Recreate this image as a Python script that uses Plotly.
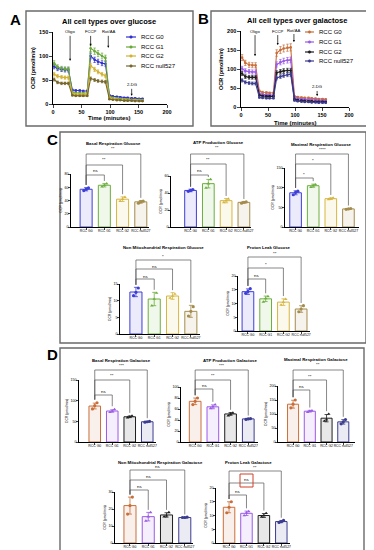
import plotly.graph_objects as go

W, H = 374, 550

# ---------------- DATA ----------------
GROUPS = ["RCC G0", "RCC G1", "RCC G2", "RCC null527"]

TIME_MIN = [2, 8, 15, 21, 27, 34, 40, 47, 53, 60, 66, 73, 79, 86, 92,
            99, 105, 112, 118, 125, 131, 138, 144, 151, 157]

GLU_G0 = [78, 74, 72, 71, 71, 29, 28, 28, 27, 27, 100, 92, 88, 85, 84,
          18, 16, 15, 14, 13, 13, 12, 12, 11, 11]
GLU_G1 = [85, 77, 74, 73, 73, 24, 23, 23, 23, 23, 116, 110, 105, 100, 96,
          15, 13, 12, 11, 10, 10, 9, 9, 9, 8]
GLU_G2 = [62, 58, 56, 55, 55, 21, 20, 20, 20, 20, 80, 72, 67, 62, 59,
          13, 11, 10, 9, 9, 8, 8, 8, 7, 7]
GLU_NULL = [51, 45, 43, 43, 43, 18, 17, 17, 17, 17, 53, 50, 48, 47, 46,
            10, 9, 8, 8, 7, 7, 7, 6, 6, 6]

GAL_G0 = [130, 116, 111, 110, 110, 42, 39, 38, 37, 37, 142, 150, 154, 156, 157,
          28, 26, 25, 24, 24, 23, 22, 21, 21, 20]
GAL_G1 = [101, 95, 93, 92, 92, 35, 33, 32, 32, 31, 112, 118, 121, 123, 124,
          24, 22, 21, 20, 19, 18, 18, 17, 17, 16]
GAL_G2 = [88, 80, 78, 78, 78, 31, 29, 28, 28, 28, 90, 93, 95, 96, 96,
          20, 18, 17, 16, 15, 15, 14, 14, 14, 13]
GAL_NULL = [70, 65, 63, 62, 62, 25, 24, 23, 23, 23, 76, 80, 83, 85, 86,
            17, 15, 14, 13, 13, 12, 12, 11, 11, 11]

# bar charts: means, SD, individual replicates
BASAL_GLU_MEAN = [57, 63, 42, 38]
BASAL_GLU_SD = [2.5, 2.5, 3.5, 2]
BASAL_GLU_PTS = [[55, 57, 59], [61, 63, 65.5], [39, 42, 45], [36, 38, 39]]

ATP_GLU_MEAN = [43, 51, 31, 29]
ATP_GLU_SD = [1.5, 5, 2.5, 1]
ATP_GLU_PTS = [[42, 43, 44], [46, 51, 56], [29, 31, 33], [28, 29, 29.5]]

MAX_GLU_MEAN = [87, 105, 72, 46]
MAX_GLU_SD = [5, 4, 2, 1]
MAX_GLU_PTS = [[82, 88, 91], [101, 105, 108], [70, 72, 74], [45, 46, 47]]

NONMITO_GLU_MEAN = [12.6, 10.5, 11.4, 6.8]
NONMITO_GLU_SD = [1.4, 2.0, 1.0, 1.8]
NONMITO_GLU_PTS = [[11.5, 12.5, 13.8], [8.5, 10.5, 12.3], [10.8, 11.4, 12.0], [5.4, 6.8, 8.2]]

LEAK_GLU_MEAN = [14.3, 11.7, 10.5, 8.0]
LEAK_GLU_SD = [1.0, 1.0, 1.2, 1.2]
LEAK_GLU_PTS = [[13.7, 14.4, 15.4], [10.6, 11.8, 12.6], [9.5, 10.5, 11.6], [7.0, 8.0, 9.2]]

BASAL_GAL_MEAN = [87, 75, 61, 49]
BASAL_GAL_SD = [7, 3, 2, 1]
BASAL_GAL_PTS = [[80, 88, 95], [72, 75, 79], [59, 61, 63], [48, 49, 50]]

ATP_GAL_MEAN = [74, 64, 51, 42]
ATP_GAL_SD = [6, 3.5, 2.5, 1]
ATP_GAL_PTS = [[68, 74, 80], [61, 64, 68], [48, 51, 53], [41, 42, 42.5]]

MAX_GAL_MEAN = [135, 110, 85, 72]
MAX_GAL_SD = [14, 3, 13, 8]
MAX_GAL_PTS = [[122, 135, 150], [106, 110, 112], [75, 80, 100], [65, 72, 80]]

NONMITO_GAL_MEAN = [22, 15.5, 16.5, 15]
NONMITO_GAL_SD = [5, 2.5, 1.3, 0.3]
NONMITO_GAL_PTS = [[17, 22, 27], [13, 15.5, 18], [15.5, 16, 18], [15, 15, 15.2]]

LEAK_GAL_MEAN = [13, 10.8, 10, 7.8]
LEAK_GAL_SD = [2, 0.8, 0.7, 0.4]
LEAK_GAL_PTS = [[11, 13, 15], [10, 11, 11.5], [9.5, 10, 10.8], [7.5, 7.8, 8.2]]

# ---------------- STYLE ----------------
GLU_LINE_COLORS = ["#3030d0", "#6aa83a", "#d2b232", "#77672c"]
GLU_COLORS = ["#3d3dd9", "#6cae3e", "#d6b640", "#a48c4c"]
GAL_COLORS = ["#c96e3a", "#9a5ae6", "#1e1e1e", "#3c3c90"]
SYMBOLS = ["circle", "triangle-up", "triangle-up", "circle"]
JITTER = [-0.13, 0.0, 0.13]
FONT = "Arial, Liberation Sans, sans-serif"


def hex_rgba(h, a):
    h = h.lstrip("#")
    return "rgba(%d,%d,%d,%.2f)" % (int(h[0:2], 16), int(h[2:4], 16), int(h[4:6], 16), a)


def px2x(px):
    return px / W


def px2y(py):
    return 1 - py / H


def ax_keys(n):
    s = "" if n == 1 else str(n)
    return "x" + s, "y" + s, "xaxis" + s, "yaxis" + s


fig = go.Figure()
axes_layout = {}
shapes = []
annotations = []

# ---------------- LINE PANELS (A, B) ----------------
LINE_PANELS = [
    dict(n=1, x_px=(45, 159), y_px=(96, 24), ymax=150,
         series=[GLU_G0, GLU_G1, GLU_G2, GLU_NULL], colors=GLU_LINE_COLORS,
         title="All cell types over glucose", title_px=(101, 13),
         xtitle_px=(102, 110),
         legend_rows=[29, 39, 48, 58], legend_x=(118, 128, 131),
         arrows=[("Oligo", 30, 90, -29), ("FCCP", 66, 121, -14),
                 ("Rot/AA", 97, 117, -16), ("2-DG", 138, 17, -11)]),
    dict(n=2, x_px=(233, 341), y_px=(99, 23), ymax=200,
         series=[GAL_G0, GAL_G1, GAL_G2, GAL_NULL], colors=GAL_COLORS,
         title="All cell types over galactose", title_px=(289, 12),
         xtitle_px=(287, 115),
         legend_rows=[24, 34, 44, 53], legend_x=(297, 306, 309),
         arrows=[("Oligo", 26, 134, -25), ("FCCP", 68, 163, -14),
                 ("Rot/AA", 98, 171, -12), ("2-DG", 141, 29, -9)]),
]

for p in LINE_PANELS:
    xr, yr, xk, yk = ax_keys(p["n"])
    for vals, col, name in zip(p["series"], p["colors"], GROUPS):
        fig.add_trace(go.Scatter(
            x=TIME_MIN, y=vals, mode="lines+markers", name=name,
            line=dict(color=col, width=1.1), marker=dict(color=col, size=2.6),
            error_y=dict(type="percent", value=6, color=col, thickness=0.7, width=1.2),
            xaxis=xr, yaxis=yr, showlegend=False, cliponaxis=False))
    l, r = p["x_px"]
    zero, top = p["y_px"]
    axes_layout[xk] = dict(domain=[px2x(l), px2x(r)], range=[0, 200], dtick=50, anchor=yr,
                           showline=True, linecolor="black", linewidth=1.2, ticks="outside",
                           ticklen=2.5, tickwidth=1, tickfont=dict(size=5.5, weight="bold"),
                           showgrid=False, zeroline=False)
    axes_layout[yk] = dict(domain=[px2y(zero), px2y(top)], range=[0, p["ymax"]], dtick=50,
                           anchor=xr, showline=True, linecolor="black", linewidth=1.2,
                           ticks="outside", ticklen=2.5, tickwidth=1,
                           tickfont=dict(size=5.5, weight="bold"), showgrid=False, zeroline=False,
                           title=dict(text="OCR (pmol/min)", font=dict(size=5.5, weight="bold"),
                                      standoff=3))
    annotations.append(dict(xref="paper", yref="paper", x=px2x(p["title_px"][0]),
                            y=px2y(p["title_px"][1]), text="<b>%s</b>" % p["title"],
                            showarrow=False, font=dict(size=7.5), xanchor="center", yanchor="middle"))
    annotations.append(dict(xref="paper", yref="paper", x=px2x(p["xtitle_px"][0]),
                            y=px2y(p["xtitle_px"][1]), text="<b>Time (minutes)</b>",
                            showarrow=False, font=dict(size=6), xanchor="center", yanchor="middle"))
    # manual legend
    x0, x1, xt = p["legend_x"]
    for row, col, name in zip(p["legend_rows"], p["colors"], GROUPS):
        shapes.append(dict(type="line", xref="paper", yref="paper", x0=px2x(x0), x1=px2x(x1),
                           y0=px2y(row), y1=px2y(row), line=dict(color=col, width=1.2)))
        cx = (x0 + x1) / 2
        shapes.append(dict(type="circle", xref="paper", yref="paper", x0=px2x(cx - 1.3),
                           x1=px2x(cx + 1.3), y0=px2y(row + 1.3), y1=px2y(row - 1.3),
                           fillcolor=col, line=dict(color=col, width=0.5)))
        annotations.append(dict(xref="paper", yref="paper", x=px2x(xt), y=px2y(row),
                                text=name, showarrow=False, font=dict(size=6),
                                xanchor="left", yanchor="middle"))
    for label, tx, ty, ay in p["arrows"]:
        annotations.append(dict(xref=xr, yref=yr, x=tx, y=ty, ax=0, ay=ay, text=label,
                                showarrow=True, arrowhead=2, arrowsize=0.6, arrowwidth=0.7,
                                arrowcolor="black", font=dict(size=4.2), standoff=0))

# ---------------- BAR PANELS (C, D) ----------------
BAR_PANELS = [
    dict(n=3, title="Basal Respiration Glucose", title_px=(105, 135), x_px=(63, 141),
         y_px=(219, 166), xrange=[-0.83, 3.45], ymax=80, dtick=20, colors=GLU_COLORS,
         data=(BASAL_GLU_MEAN, BASAL_GLU_SD, BASAL_GLU_PTS),
         brackets=[(0, 3, 146, "**", 140.5), (0, 2, 157, "**", 152), (0, 1, 167, "ns", 163)]),
    dict(n=4, title="ATP Production Glucose", title_px=(210, 134), x_px=(163, 243),
         y_px=(219, 168), xrange=[-1.1, 3.4], ymax=60, dtick=20, colors=GLU_COLORS,
         data=(ATP_GLU_MEAN, ATP_GLU_SD, ATP_GLU_PTS),
         brackets=[(0, 3, 146, "**", 140), (0, 2, 156, "**", 151.5), (0, 1, 167, "ns", 162.5)]),
    dict(n=5, title="Maximal Respiration Glucose", title_px=(313, 136), x_px=(277, 351),
         y_px=(219, 160), xrange=[-0.6, 3.6], ymax=150, dtick=50, colors=GLU_COLORS,
         data=(MAX_GLU_MEAN, MAX_GLU_SD, MAX_GLU_PTS),
         brackets=[(0, 3, 146, "****", 141), (0, 2, 156, "*", 152.5), (0, 1, 170, "*", 166)]),
    dict(n=6, title="Non Mitochondrial Respiration Glucose", title_px=(155, 239), x_px=(112, 192),
         y_px=(326, 276), xrange=[-0.87, 3.5], ymax=15, dtick=5, colors=GLU_COLORS,
         data=(NONMITO_GLU_MEAN, NONMITO_GLU_SD, NONMITO_GLU_PTS),
         brackets=[(0, 3, 252, "*", 248), (0, 2, 261, "ns", 258), (0, 1, 271, "ns", 268)]),
    dict(n=7, title="Proton Leak Glucose", title_px=(261, 239), x_px=(230, 302),
         y_px=(323, 268), xrange=[-0.56, 3.5], ymax=20, dtick=5, colors=GLU_COLORS,
         data=(LEAK_GLU_MEAN, LEAK_GLU_SD, LEAK_GLU_PTS),
         brackets=[(0, 3, 249, "**", 245), (0, 2, 260, "*", 256.5), (0, 1, 271, "ns", 267.5)]),
    dict(n=8, title="Basal Respiration Galactose", title_px=(113, 352), x_px=(71, 148),
         y_px=(434, 372), xrange=[-0.9, 3.5], ymax=150, dtick=50, colors=GAL_COLORS,
         data=(BASAL_GAL_MEAN, BASAL_GAL_SD, BASAL_GAL_PTS),
         brackets=[(0, 3, 362, "***", 357.5), (0, 2, 372, "**", 367.5), (0, 1, 387, "ns", 383)]),
    dict(n=9, title="ATP Production Galactose", title_px=(222, 352), x_px=(173, 250),
         y_px=(434, 379), xrange=[-0.8, 3.55], ymax=100, dtick=20, colors=GAL_COLORS,
         data=(ATP_GAL_MEAN, ATP_GAL_SD, ATP_GAL_PTS),
         brackets=[(0, 3, 362, "***", 357.5), (0, 2, 372, "**", 367.5), (0, 1, 381, "ns", 377.5)]),
    dict(n=10, title="Maximal Respiration Galactose", title_px=(308, 351), x_px=(270, 347),
         y_px=(434, 378), xrange=[-0.9, 3.7], ymax=200, dtick=50, colors=GAL_COLORS,
         data=(MAX_GAL_MEAN, MAX_GAL_SD, MAX_GAL_PTS),
         brackets=[(0, 3, 362, "**", 356.5), (0, 2, 372, "**", 368), (0, 1, 382, "ns", 378.5)]),
    dict(n=11, title="Non Mitochondrial Respiration Galactose", title_px=(152, 454), x_px=(107, 185),
         y_px=(535, 484), xrange=[-0.82, 3.45], ymax=30, dtick=10, colors=GAL_COLORS,
         data=(NONMITO_GAL_MEAN, NONMITO_GAL_SD, NONMITO_GAL_PTS),
         brackets=[(0, 3, 462, "ns", 458.5), (0, 2, 472, "ns", 468), (0, 1, 482, "ns", 478)]),
    dict(n=12, title="Proton Leak Galactose", title_px=(240, 454), x_px=(208, 282),
         y_px=(535, 480), xrange=[-0.75, 3.5], ymax=20, dtick=5, colors=GAL_COLORS,
         data=(LEAK_GAL_MEAN, LEAK_GAL_SD, LEAK_GAL_PTS),
         brackets=[(0, 3, 463, "**", 459.5), (0, 2, 475, "ns", 471.5), (0, 1, 487, "ns", 483)]),
]

BRACKET_COLOR = "#555555"

for p in BAR_PANELS:
    xr, yr, xk, yk = ax_keys(p["n"])
    means, sds, pts = p["data"]
    for k in range(4):
        col = p["colors"][k]
        fig.add_trace(go.Bar(
            x=[k], y=[means[k]], width=0.66, name=GROUPS[k],
            marker=dict(color=hex_rgba(col, 0.10), line=dict(color=col, width=1)),
            error_y=dict(type="data", array=[sds[k]], color=col, thickness=0.8, width=2),
            xaxis=xr, yaxis=yr, showlegend=False))
        fig.add_trace(go.Scatter(
            x=[k + j for j in JITTER[:len(pts[k])]], y=pts[k], mode="markers",
            marker=dict(color=col, size=3.2, symbol=SYMBOLS[k]),
            xaxis=xr, yaxis=yr, showlegend=False, cliponaxis=False))
    l, r = p["x_px"]
    zero, top = p["y_px"]
    axes_layout[xk] = dict(domain=[px2x(l), px2x(r)], range=p["xrange"], anchor=yr,
                           tickmode="array", tickvals=[0, 1, 2, 3], ticktext=GROUPS, tickangle=0,
                           tickfont=dict(size=3.4), showline=True, linecolor="black",
                           linewidth=0.9, ticks="outside", ticklen=1.8, tickwidth=0.6,
                           ticklabelstandoff=-2,
                           showgrid=False, zeroline=False)
    axes_layout[yk] = dict(domain=[px2y(zero), px2y(top)], range=[0, p["ymax"]], dtick=p["dtick"],
                           anchor=xr, showline=True, linecolor="black", linewidth=0.9,
                           ticks="outside", ticklen=1.8, tickwidth=0.6, tickfont=dict(size=3.6),
                           ticklabelstandoff=-1,
                           showgrid=False, zeroline=False,
                           title=dict(text="OCR (pmol/min)", font=dict(size=3.4), standoff=2))
    annotations.append(dict(xref="paper", yref="paper", x=px2x(p["title_px"][0]),
                            y=px2y(p["title_px"][1]), text="<b>%s</b>" % p["title"],
                            showarrow=False, font=dict(size=4.3), xanchor="center",
                            yanchor="middle"))
    span = zero - top
    for (i, j, lev, lab, lab_px) in p["brackets"]:
        lev_d = (zero - lev) / span
        lab_d = (zero - lab_px) / span
        for k in (i, j):
            bot = max(means[k] + sds[k], max(pts[k])) / p["ymax"] + 0.05
            bot = min(bot, lev_d - 0.04)
            shapes.append(dict(type="line", xref=xr, yref=yr + " domain", x0=k, x1=k,
                               y0=bot, y1=lev_d, line=dict(color=BRACKET_COLOR, width=0.7)))
        shapes.append(dict(type="line", xref=xr, yref=yr + " domain", x0=i, x1=j,
                           y0=lev_d, y1=lev_d, line=dict(color=BRACKET_COLOR, width=0.7)))
        annotations.append(dict(xref=xr, yref=yr + " domain", x=(i + j) / 2, y=lab_d, text=lab,
                                showarrow=False, font=dict(size=4.3), xanchor="center",
                                yanchor="middle"))

# ---------------- PANEL BOXES & LETTERS ----------------
BOXES = [(18, 3, 185, 118), (203, 3, 370, 118), (52, 124, 358, 335), (52, 340, 356, 548)]
for (x0, y0, x1, y1) in BOXES:
    shapes.append(dict(type="rect", xref="paper", yref="paper", x0=px2x(x0), x1=px2x(x1),
                       y0=px2y(y1), y1=px2y(y0), line=dict(color="#6a6a6a", width=1.4),
                       fillcolor="rgba(0,0,0,0)", layer="below"))

# highlighted "ns" in D (red box)
shapes.append(dict(type="rect", xref="paper", yref="paper", x0=px2x(232), x1=px2x(245),
                   y0=px2y(479), y1=px2y(466), line=dict(color="#d0402a", width=1)))

LETTERS = [("A", 8, 11), ("B", 195, 10), ("C", 44, 131), ("D", 44, 346)]
for t, x, y in LETTERS:
    annotations.append(dict(xref="paper", yref="paper", x=px2x(x), y=px2y(y),
                            text="<b>%s</b>" % t, showarrow=False, font=dict(size=15),
                            xanchor="center", yanchor="middle"))

fig.update_layout(
    width=W, height=H, margin=dict(l=0, r=0, t=0, b=0),
    template="none", paper_bgcolor="white", plot_bgcolor="rgba(0,0,0,0)",
    font=dict(family=FONT, color="black"), barmode="overlay", showlegend=False,
    shapes=shapes, annotations=annotations, **axes_layout)

fig.write_html("out.html")
